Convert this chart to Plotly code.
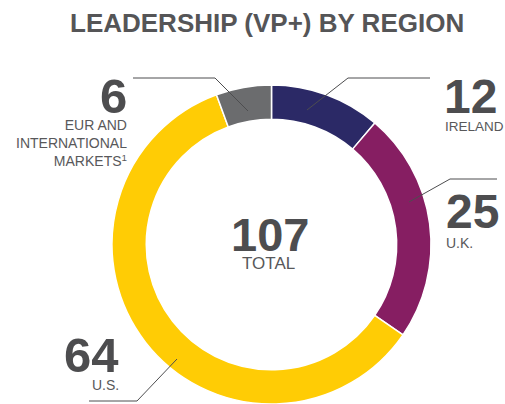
import plotly.graph_objects as go

# ---- data ----
regions = ["Ireland", "U.K.", "U.S.", "EUR and International Markets"]
values = [12, 25, 64, 6]
colors = ["#2b2966", "#861e62", "#ffcc05", "#6b6c6e"]
total = sum(values)

W, H = 505, 404


def px(x):
    return x / W


def py(y):
    return 1 - y / H


fig = go.Figure()
fig.add_trace(go.Pie(
    labels=regions,
    values=values,
    marker=dict(colors=colors, line=dict(color="white", width=1.5)),
    hole=0.785,
    sort=False,
    direction="clockwise",
    rotation=0,
    textinfo="none",
    hoverinfo="label+value",
    showlegend=False,
    domain=dict(x=[px(111.5), px(431.5)], y=[0, py(85)]),
))

NUM = "#4d4d4f"
LAB = "#58585a"
FONT = "Liberation Sans, Arial, sans-serif"

annotations = []


def ann(text, x, y, size, color, xanchor, bold=False, align="left"):
    annotations.append(dict(
        text=f"<b>{text}</b>" if bold else text,
        x=px(x), y=py(y), xref="paper", yref="paper",
        xanchor=xanchor, yanchor="middle", align=align,
        showarrow=False,
        font=dict(family=FONT, size=size, color=color),
    ))


# title
ann("LEADERSHIP (VP+) BY REGION", 266.5, 23, 26, "#555557", "center", bold=True)

# center total
ann(str(total), 270, 235, 47, NUM, "center", bold=True)
ann("TOTAL", 268.5, 263, 17, LAB, "center")

# Ireland
ann(str(values[0]), 442, 96, 48, NUM, "left", bold=True)
ann("IRELAND", 443, 126, 13.5, LAB, "left")

# U.K.
ann(str(values[1]), 444, 211, 48, NUM, "left", bold=True)
ann("U.K.", 444, 243, 14, LAB, "left")

# U.S.
ann(str(values[2]), 121, 355, 49, NUM, "right", bold=True)
ann("U.S.", 121, 385, 14, LAB, "right")

# EUR and international
ann(str(values[3]), 129, 96, 49, NUM, "right", bold=True)
ann("EUR AND<br>INTERNATIONAL<br>MARKETS<sup>1</sup>", 129, 143, 14, LAB, "right", align="right")

# leader lines (pixel paths)
leaders = [
    [(307, 110), (348, 78), (430, 78)],
    [(248, 111), (215, 78), (133, 78)],
    [(409, 202), (450, 179), (497, 179)],
    [(177, 359), (137, 401), (89, 401)],
]
shapes = []
for pts in leaders:
    path = "M " + " L ".join(f"{px(x)},{py(y)}" for x, y in pts)
    shapes.append(dict(type="path", path=path, xref="paper", yref="paper",
                       line=dict(color="#4d4d4f", width=1)))

fig.update_layout(
    width=W, height=H,
    margin=dict(l=0, r=0, t=0, b=0),
    paper_bgcolor="white",
    plot_bgcolor="white",
    annotations=annotations,
    shapes=shapes,
)

fig.write_html(
    "out.html",
    config={"displayModeBar": False},
    post_script=(
        "document.documentElement.style.overflow='hidden';"
        "document.body.style.margin='0';"
        "document.body.style.overflow='hidden';"
    ),
)
